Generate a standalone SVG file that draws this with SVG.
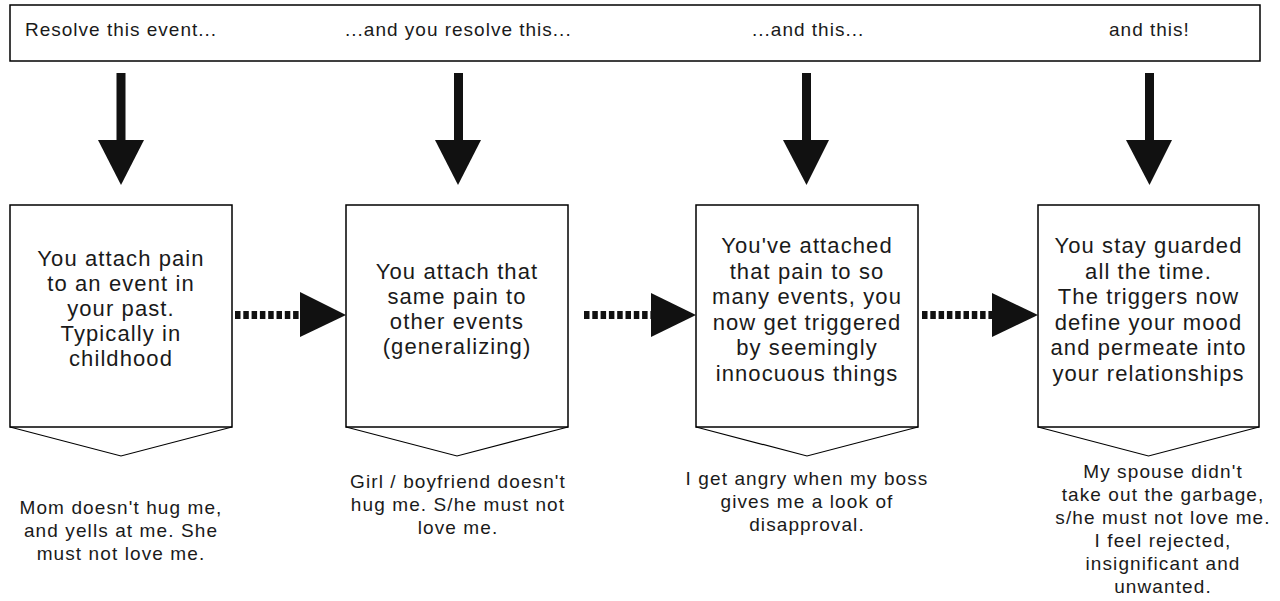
<svg xmlns="http://www.w3.org/2000/svg" width="1280" height="601" viewBox="0 0 1280 601">
<style>
.frame{fill:#fff;stroke:#000;stroke-width:1.5}
.chev{fill:none;stroke:#000;stroke-width:1.2}
.t{font-family:"Liberation Sans",Arial,sans-serif;fill:#1a1a1a}
.top{font-size:19px;letter-spacing:1px}
.box{font-size:22px;letter-spacing:1.1px;text-anchor:middle}
.ex{font-size:19px;letter-spacing:1.1px;text-anchor:middle}
.shaft{fill:#111}
.dash{stroke:#111;stroke-width:8;stroke-dasharray:5.5 2.8;fill:none}
.head{fill:#111}
</style>
<rect width="1280" height="601" fill="#fff"/>
<g id="banner">
<rect class="frame" x="10" y="5" width="1250" height="56"/>
<text class="t top" x="25" y="36">Resolve this event...</text>
<text class="t top" x="345" y="36">...and you resolve this...</text>
<text class="t top" x="752" y="36">...and this...</text>
<text class="t top" x="1109" y="36">and this!</text>
</g>
<g id="connectors">
<g id="down1"><rect class="shaft" x="116.5" y="73" width="9" height="68"/><polygon class="head" points="98,140 144,140 121,185"/></g>
<g id="down2"><rect class="shaft" x="454" y="73" width="9" height="68"/><polygon class="head" points="435,140 481,140 458,185"/></g>
<g id="down3"><rect class="shaft" x="802" y="73" width="9" height="68"/><polygon class="head" points="783,140 829,140 806.5,185"/></g>
<g id="down4"><rect class="shaft" x="1145" y="73" width="9" height="68"/><polygon class="head" points="1126,140 1172,140 1149.5,185"/></g>
<g id="right1"><line class="dash" x1="235" y1="315" x2="301" y2="315"/><polygon class="head" points="300,292 346,315 300,337"/></g>
<g id="right2"><line class="dash" x1="584" y1="315" x2="652" y2="315"/><polygon class="head" points="651,293 696,315 651,337"/></g>
<g id="right3"><line class="dash" x1="922" y1="315" x2="993" y2="315"/><polygon class="head" points="992,293 1038,315 992,337"/></g>
</g>
<g id="node1">
<rect class="frame" x="10" y="205" width="222" height="222"/>
<polyline class="chev" points="10,427 121,456 232,427"/>
<text class="t box" x="121" y="266">You attach pain</text>
<text class="t box" x="121" y="291">to an event in</text>
<text class="t box" x="121" y="316">your past.</text>
<text class="t box" x="121" y="341">Typically in</text>
<text class="t box" x="121" y="366">childhood</text>
</g>
<g id="node2">
<rect class="frame" x="346" y="205" width="222" height="222"/>
<polyline class="chev" points="346,427 457,456 568,427"/>
<text class="t box" x="457" y="279">You attach that</text>
<text class="t box" x="457" y="304">same pain to</text>
<text class="t box" x="457" y="329">other events</text>
<text class="t box" x="457" y="354">(generalizing)</text>
</g>
<g id="node3">
<rect class="frame" x="696" y="205" width="222" height="222"/>
<polyline class="chev" points="696,427 807,456 918,427"/>
<text class="t box" x="807" y="253">You've attached</text>
<text class="t box" x="807" y="278.5">that pain to so</text>
<text class="t box" x="807" y="304">many events, you</text>
<text class="t box" x="807" y="329.5">now get triggered</text>
<text class="t box" x="807" y="355">by seemingly</text>
<text class="t box" x="807" y="380.5">innocuous things</text>
</g>
<g id="node4">
<rect class="frame" x="1038" y="205" width="221" height="222"/>
<polyline class="chev" points="1038,427 1148.5,456 1259,427"/>
<text class="t box" x="1148.5" y="253">You stay guarded</text>
<text class="t box" x="1148.5" y="278.5">all the time.</text>
<text class="t box" x="1148.5" y="304">The triggers now</text>
<text class="t box" x="1148.5" y="329.5">define your mood</text>
<text class="t box" x="1148.5" y="355">and permeate into</text>
<text class="t box" x="1148.5" y="380.5">your relationships</text>
</g>
<g id="example1">
<text class="t ex" x="121" y="514">Mom doesn't hug me,</text>
<text class="t ex" x="121" y="537">and yells at me. She</text>
<text class="t ex" x="121" y="560">must not love me.</text>
</g>
<g id="example2">
<text class="t ex" x="458" y="488">Girl / boyfriend doesn't</text>
<text class="t ex" x="458" y="511">hug me. S/he must not</text>
<text class="t ex" x="458" y="534">love me.</text>
</g>
<g id="example3">
<text class="t ex" x="807" y="485">I get angry when my boss</text>
<text class="t ex" x="807" y="508">gives me a look of</text>
<text class="t ex" x="807" y="531">disapproval.</text>
</g>
<g id="example4">
<text class="t ex" x="1163" y="478">My spouse didn't</text>
<text class="t ex" x="1163" y="501">take out the garbage,</text>
<text class="t ex" x="1163" y="524">s/he must not love me.</text>
<text class="t ex" x="1163" y="547">I feel rejected,</text>
<text class="t ex" x="1163" y="570">insignificant and</text>
<text class="t ex" x="1163" y="593">unwanted.</text>
</g>
</svg>
